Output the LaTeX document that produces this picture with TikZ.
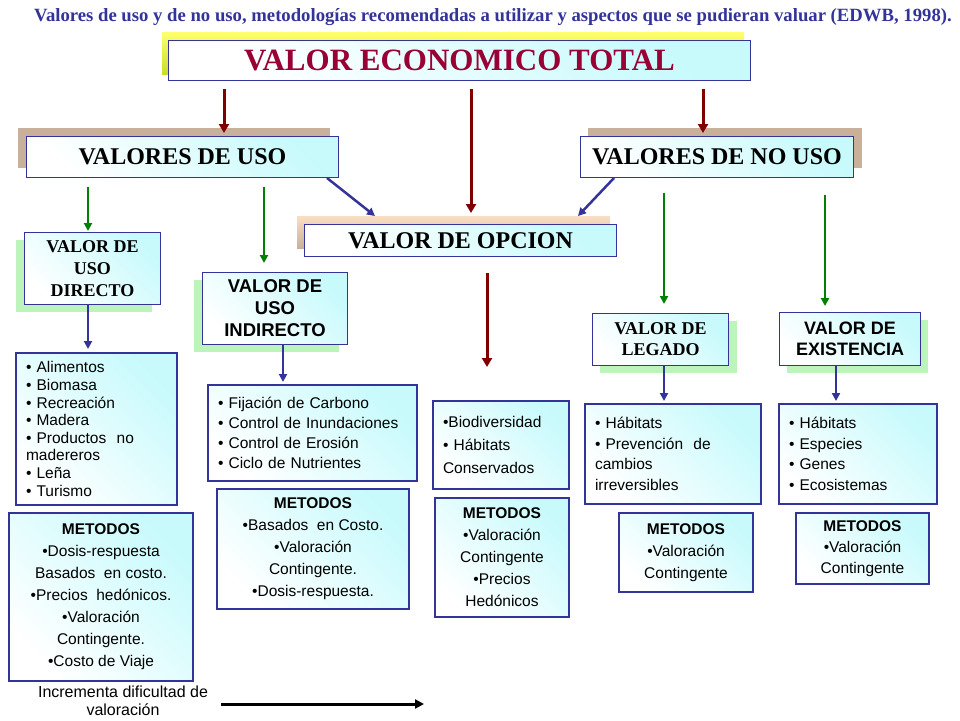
\documentclass[tikz,border=0pt]{standalone}
\usepackage{fontspec}
\setmainfont{Liberation Serif}
\setsansfont{Liberation Sans}
\usetikzlibrary{arrows.meta, positioning, calc}

\definecolor{blu}{RGB}{51,51,153}
\definecolor{rosso}{RGB}{128,0,0}
\definecolor{bordo}{RGB}{153,0,51}
\definecolor{verde}{RGB}{0,128,0}
\definecolor{ciano}{RGB}{200,250,252}
\definecolor{marrone}{RGB}{200,176,155}
\definecolor{pesca}{RGB}{250,222,196}
\definecolor{verdino}{RGB}{188,244,188}
\definecolor{giallo}{RGB}{255,255,110}
\definecolor{lime}{RGB}{200,222,40}

\tikzset{
  riq/.style={draw=blu, line width=1pt, anchor=north west, inner sep=0pt,
    top color=ciano, bottom color=white, shading angle=-45},
  lista/.style={riq, line width=2pt, align=left, inner xsep=10pt},
  metodi/.style={riq, line width=2pt, align=center},
  ombra/.style={anchor=north west, inner sep=0pt},
  frossa/.style={rosso, line width=3pt, -{Triangle[length=9pt,width=10pt]}},
  fverde/.style={verde, line width=2.5pt, -{Triangle[length=8pt,width=8pt]}},
  fblu/.style={blu, line width=2.5pt, -{Triangle[length=8pt,width=8pt]}},
  fnera/.style={black, line width=3pt, -{Triangle[length=9pt,width=9pt]}},
}

\begin{document}
\begin{tikzpicture}[x=1pt, y=-1pt]
        \useasboundingbox (0,0) rectangle (960,720);

        % titolo
        \node[blu, font=\bfseries\fontsize{18.7}{20}\selectfont] (tit) at (493,17)
          {Valores de uso y de no uso, metodologías recomendadas a utilizar y aspectos que se pudieran valuar (EDWB, 1998).};

        % valore economico totale
        \node[ombra, minimum width=582pt, minimum height=42pt, top color=giallo, bottom color=lime] (vetsh) at (162,32) {};
        \node[riq, minimum width=582pt, minimum height=40pt, text=bordo,
          font=\bfseries\fontsize{31}{31}\selectfont] (vet) at (168,40) {VALOR ECONOMICO TOTAL};

        % valori di uso / non uso / opzione
        \node[ombra, fill=marrone, minimum width=312pt, minimum height=40pt] (usosh) at (18,128) {};
        \node[riq, minimum width=312pt, minimum height=41pt,
          font=\bfseries\fontsize{24}{24}\selectfont] (uso) at (26,136) {VALORES DE USO};
        \node[ombra, fill=marrone, minimum width=274pt, minimum height=40pt] (nousosh) at (588,128) {};
        \node[riq, minimum width=273pt, minimum height=41pt,
          font=\bfseries\fontsize{24}{24}\selectfont] (nouso) at (580,136) {VALORES DE NO USO};
        \node[ombra, top color=pesca, bottom color=marrone, minimum width=313pt, minimum height=32pt] (opsh) at (297,216) {};
        \node[riq, minimum width=312pt, minimum height=32pt,
          font=\bfseries\fontsize{24}{24}\selectfont] (op) at (304,224) {VALOR DE OPCION};

        % sottoclassi
        \node[ombra, fill=verdino, minimum width=136pt, minimum height=72pt] (dirsh) at (16,240) {};
        \node[riq, minimum width=136pt, minimum height=72pt, align=center,
          font=\bfseries\fontsize{18}{22}\selectfont] (dir) at (24,232) {VALOR DE\\USO\\DIRECTO};
        \node[ombra, fill=verdino, minimum width=145pt, minimum height=72pt] (indsh) at (194,280) {};
        \node[riq, minimum width=145pt, minimum height=72pt, align=center,
          font=\sffamily\bfseries\fontsize{18.5}{22}\selectfont] (ind) at (202,272) {VALOR DE\\USO\\INDIRECTO};
        \node[ombra, fill=verdino, minimum width=137pt, minimum height=52pt] (legsh) at (600,321) {};
        \node[riq, minimum width=136pt, minimum height=52pt, align=center,
          font=\bfseries\fontsize{18}{21}\selectfont] (leg) at (592,313) {VALOR DE\\LEGADO};
        \node[ombra, fill=verdino, minimum width=141pt, minimum height=53pt] (esish) at (787,320) {};
        \node[riq, minimum width=141pt, minimum height=53pt, align=center,
          font=\sffamily\bfseries\fontsize{18}{21}\selectfont] (esi) at (779,312) {VALOR DE\\EXISTENCIA};

        % elenchi
        \node[lista, text width=141pt, minimum height=152pt, font=\sffamily\fontsize{15.5}{17.6}\selectfont] (l1) at (15,352)
          {• Alimentos\\ • Biomasa\\ • Recreación\\ • Madera\\ • Productos\ \ no\\ madereros\\ • Leña\\ • Turismo};
        \node[lista, text width=189pt, minimum height=96pt, font=\sffamily\fontsize{15.5}{20}\selectfont] (l2) at (207,384)
          {• Fijación de Carbono\\ • Control de Inundaciones\\ • Control de Erosión\\ • Ciclo de Nutrientes};
        \node[lista, text width=116pt, minimum height=88pt, font=\sffamily\fontsize{15.5}{23}\selectfont] (l3) at (432,400)
          {•Biodiversidad\\ • Hábitats\\ Conservados};
        \node[lista, text width=156pt, minimum height=100pt, font=\sffamily\fontsize{15.5}{20.5}\selectfont] (l4) at (584,403)
          {• Hábitats\\ • Prevención\ \ de\\ cambios\\ irreversibles};
        \node[lista, text width=138pt, minimum height=100pt, font=\sffamily\fontsize{15.5}{20.5}\selectfont] (l5) at (778,403)
          {• Hábitats\\ • Especies\\ • Genes\\ • Ecosistemas};

        % metodi
        \node[metodi, minimum width=184pt, minimum height=168pt, font=\sffamily\fontsize{15.5}{22}\selectfont] (m1) at (8,512)
          {\textbf{METODOS}\\ •Dosis-respuesta\\ Basados\ \ en costo.\\ •Precios\ \ hedónicos.\\ •Valoración\\ Contingente.\\ •Costo de Viaje};
        \node[metodi, minimum width=192pt, minimum height=120pt, font=\sffamily\fontsize{15.5}{22}\selectfont] (m2) at (216,488)
          {\textbf{METODOS}\\ •Basados\ \ en Costo.\\ •Valoración\\ Contingente.\\ •Dosis-respuesta.};
        \node[metodi, minimum width=134pt, minimum height=119pt, font=\sffamily\fontsize{15.5}{22}\selectfont] (m3) at (434,497)
          {\textbf{METODOS}\\ •Valoración\\ Contingente\\ •Precios\\ Hedónicos};
        \node[metodi, minimum width=134pt, minimum height=79pt, font=\sffamily\fontsize{15.5}{22}\selectfont] (m4) at (618,512)
          {\textbf{METODOS}\\ •Valoración\\ Contingente};
        \node[metodi, minimum width=133pt, minimum height=71pt, font=\sffamily\fontsize{15.5}{21}\selectfont] (m5) at (795,512)
          {\textbf{METODOS}\\ •Valoración\\ Contingente};

        % difficolta
        \node[align=center, font=\sffamily\fontsize{16}{18}\selectfont] (inc) at (123,701) {Incrementa dificultad de\\valoración};
        \coordinate (incfine) at (424,704);
        \draw[fnera, shorten <=10pt] (inc.east |- incfine) -- (incfine);

        % frecce rosse
        \draw[frossa, shorten <=8pt, shorten >=3pt] (vet.south -| 224,0) -- (uso.north -| 224,0);
        \draw[frossa, shorten <=8pt, shorten >=3pt] (vet.south -| 471,0) -- (opsh.north -| 471,0);
        \draw[frossa, shorten <=8pt, shorten >=3pt] (vet.south -| 703,0) -- (nouso.north -| 703,0);
        \draw[frossa, shorten <=16pt, shorten >=33pt] (op.south -| 487,0) -- (l3.north -| 487,0);

        % frecce blu
        \draw[fblu] (uso.south -| 327,0) -- (opsh.north -| 375,0);
        \draw[fblu] (nouso.south -| 614,0) -- (opsh.north -| 578,0);
        \draw[fblu, shorten >=3pt] (dir.south -| 88,0) -- (l1.north -| 88,0);
        \draw[fblu, shorten >=2pt] (ind.south -| 283,0) -- (l2.north -| 283,0);
        \draw[fblu, shorten >=2pt] (leg.south -| 664,0) -- (l4.north -| 664,0);
        \draw[fblu, shorten >=2pt] (esi.south -| 836,0) -- (l5.north -| 836,0);

        % frecce verdi
        \draw[fverde, shorten <=9pt, shorten >=1pt] (uso.south -| 88,0) -- (dir.north -| 88,0);
        \draw[fverde, shorten <=9pt, shorten >=9pt] (uso.south -| 264,0) -- (ind.north -| 264,0);
        \draw[fverde, shorten <=15pt, shorten >=9pt] (nouso.south -| 664,0) -- (leg.north -| 664,0);
        \draw[fverde, shorten <=17pt, shorten >=6pt] (nouso.south -| 825,0) -- (esi.north -| 825,0);
    \end{tikzpicture}
\end{document}
